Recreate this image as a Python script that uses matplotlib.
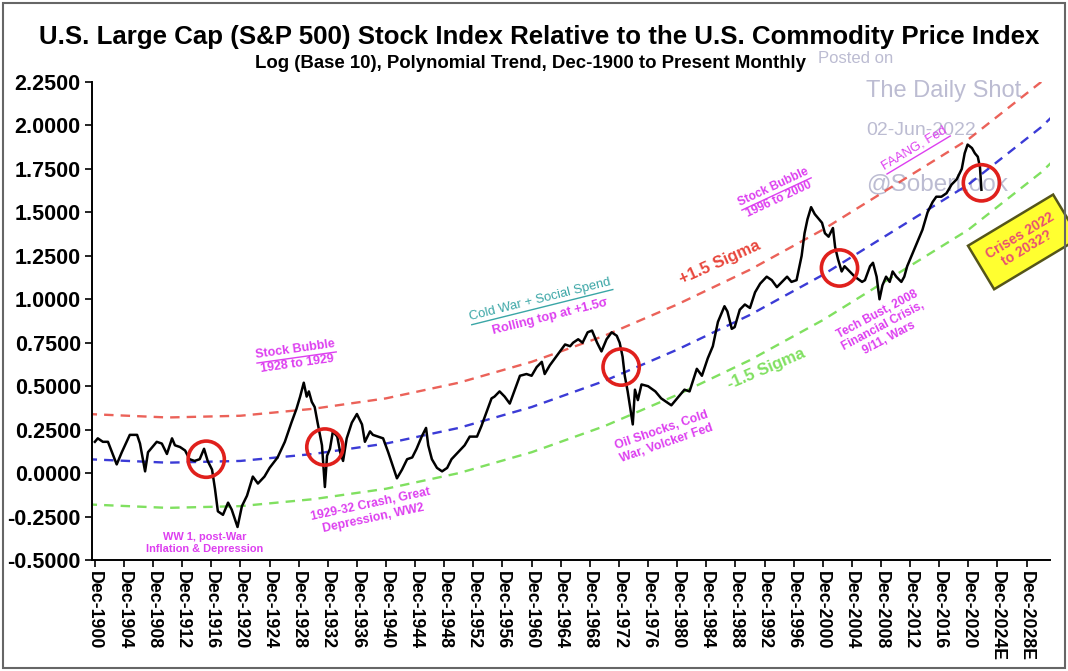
import matplotlib
matplotlib.use("Agg")
import matplotlib.pyplot as plt
from matplotlib.patches import Rectangle
from matplotlib.lines import Line2D
from matplotlib.transforms import IdentityTransform
import numpy as np

# --- data (year, log10 ratio) ---
years = [1900.0, 1900.4, 1901.1, 1901.8, 1903.0, 1903.7, 1904.8, 1905.8, 1906.2, 1906.9,
         1907.3, 1908.5, 1909.2, 1909.9, 1910.6, 1911.0, 1911.7, 1912.4, 1913.0, 1913.7,
         1914.4, 1915.0, 1915.5, 1916.1, 1916.5, 1916.9, 1917.6, 1918.3, 1918.8, 1919.6,
         1920.2, 1920.9, 1921.7, 1922.4, 1923.3, 1924.0, 1925.1, 1926.1, 1927.0, 1927.7,
         1928.2, 1928.7, 1929.1, 1929.4, 1929.8, 1930.2, 1930.6, 1931.2, 1931.6, 1931.9,
         1932.3, 1932.7, 1933.3, 1933.7, 1934.1, 1934.6, 1935.3, 1936.0, 1936.7, 1937.1,
         1937.8, 1938.2, 1938.9, 1939.6, 1940.3, 1941.5, 1942.2, 1942.9, 1943.6, 1944.2,
         1944.9, 1945.5, 1945.8, 1946.3, 1947.0, 1947.7, 1948.4, 1949.0, 1949.9, 1950.8,
         1951.5, 1952.5, 1953.1, 1953.8, 1954.5, 1954.9, 1955.6, 1956.3, 1957.0, 1957.7,
         1958.4, 1959.3, 1960.0, 1960.7, 1961.4, 1961.8, 1962.5, 1963.2, 1963.9, 1964.6,
         1965.3, 1965.7, 1966.4, 1967.0, 1967.7, 1968.3, 1969.0, 1969.6, 1970.3, 1971.0,
         1971.7, 1972.1, 1972.5, 1972.8, 1973.2, 1973.9, 1974.2, 1974.6, 1975.1, 1976.0,
         1977.0, 1977.8, 1979.2, 1980.0, 1981.0, 1981.7, 1982.7, 1983.4, 1984.2, 1984.9,
         1985.6, 1986.5, 1986.9, 1987.5, 1987.9, 1988.6, 1989.3, 1990.0, 1990.7, 1991.4,
         1992.3, 1993.0, 1993.7, 1994.4, 1995.1, 1995.7, 1996.4, 1997.1, 1997.5, 1997.9,
         1998.4, 1998.9, 1999.9, 2000.3, 2000.8, 2001.4, 2001.7, 2002.1, 2002.6, 2003.0,
         2003.7, 2004.4, 2005.4, 2005.8, 2006.5, 2006.9, 2007.4, 2007.8, 2008.2, 2008.7,
         2009.2, 2009.6, 2010.1, 2010.8, 2011.2, 2011.6, 2012.4, 2013.0, 2013.7, 2014.4,
         2015.1, 2015.6, 2016.3, 2017.0, 2017.7, 2018.4, 2019.1, 2019.5, 2019.9, 2020.5,
         2020.9, 2021.3, 2021.6, 2021.8]
ratio = [0.18, 0.20, 0.18, 0.18, 0.05, 0.12, 0.22, 0.22, 0.17, 0.01,
         0.12, 0.18, 0.17, 0.11, 0.20, 0.16, 0.15, 0.13, 0.08, 0.07,
         0.08, 0.14, 0.07, 0.02, -0.09, -0.22, -0.24, -0.17, -0.21, -0.31,
         -0.19, -0.13, -0.02, -0.06, -0.02, 0.03, 0.09, 0.18, 0.29, 0.37,
         0.44, 0.52, 0.44, 0.47, 0.41, 0.38, 0.29, 0.16, -0.08, 0.10,
         0.14, 0.24, 0.21, 0.12, 0.07, 0.20, 0.29, 0.34, 0.28, 0.18,
         0.24, 0.22, 0.21, 0.20, 0.12, -0.03, 0.02, 0.08, 0.09, 0.14,
         0.21, 0.26, 0.16, 0.08, 0.03, 0.01, 0.03, 0.08, 0.12, 0.16,
         0.21, 0.21, 0.27, 0.35, 0.43, 0.44, 0.47, 0.44, 0.40, 0.48,
         0.56, 0.57, 0.56, 0.61, 0.64, 0.57, 0.62, 0.66, 0.70, 0.74,
         0.73, 0.75, 0.77, 0.75, 0.81, 0.82, 0.75, 0.70, 0.77, 0.81,
         0.79, 0.75, 0.67, 0.56, 0.47, 0.28, 0.48, 0.42, 0.51, 0.50,
         0.47, 0.43, 0.39, 0.43, 0.48, 0.47, 0.60, 0.56, 0.66, 0.73,
         0.87, 0.96, 0.93, 0.83, 0.84, 0.94, 0.97, 0.95, 1.04, 1.09,
         1.13, 1.11, 1.07, 1.10, 1.13, 1.10, 1.11, 1.25, 1.38, 1.46,
         1.53, 1.49, 1.44, 1.38, 1.36, 1.41, 1.30, 1.23, 1.16, 1.19,
         1.16, 1.13, 1.10, 1.11, 1.19, 1.21, 1.13, 1.00, 1.08, 1.13,
         1.10, 1.16, 1.13, 1.10, 1.13, 1.19, 1.27, 1.33, 1.40, 1.50,
         1.56, 1.59, 1.59, 1.61, 1.66, 1.69, 1.75, 1.84, 1.89, 1.87,
         1.84, 1.82, 1.76, 1.63]

# polynomial trend, read at decade points, and the +/-1.5 sigma offset
trend_years = [1899, 1910, 1920, 1930, 1940, 1950, 1960, 1970, 1980, 1990, 2000, 2010, 2020, 2030, 2032]
trend_mid = [0.08, 0.06, 0.07, 0.11, 0.17, 0.26, 0.38, 0.53, 0.71, 0.91, 1.14, 1.40, 1.66, 1.99, 2.07]
sigma_band = 0.26

# red circles on trend crossings
circle_years = [1915.3, 1931.6, 1972.3, 2002.3, 2021.8]
circle_vals = [0.08, 0.15, 0.61, 1.18, 1.67]

tick_years = list(range(1900, 2029, 4))
tick_labels = [f"Dec-{y}" + ("E" if y > 2022 else "") for y in tick_years]
y_ticks = np.arange(-0.5, 2.26, 0.25)

plt.rcParams["font.family"] = ["Liberation Sans", "DejaVu Sans"]

MAG = "#dd3ff0"

fig = plt.figure(figsize=(10.68, 6.71), dpi=100)
ax = fig.add_axes([0.0861, 0.1654, 0.8969, 0.7124])
renderer = fig.canvas.get_renderer()


def block(x, y, lines, rot, size, color, weight="bold", underline=(), lh=1.1, **kw):
    """Rotated multi-line label, one annotate per line; optional underlines."""
    th = np.deg2rad(rot)
    n = len(lines)
    for i, s in enumerate(lines):
        d = (i - (n - 1) / 2) * size * lh
        dx, dy = d * np.sin(th), -d * np.cos(th)
        ax.annotate(s, (x, y), xytext=(dx, dy), textcoords="offset points", rotation=rot,
                    ha="center", va="center", color=color, fontsize=size, fontweight=weight,
                    rotation_mode="anchor", **kw)
        if i in underline:
            tmp = fig.text(0, 0, s, fontsize=size, fontweight=weight)
            w = tmp.get_window_extent(renderer).width
            tmp.remove()
            u = (d + size * 0.62) * fig.dpi / 72
            px, py = ax.transData.transform((x, y))
            cx, cy = px + u * np.sin(th), py - u * np.cos(th)
            ex, ey = w / 2 * np.cos(th), w / 2 * np.sin(th)
            fig.add_artist(Line2D([cx - ex, cx + ex], [cy - ey, cy + ey], color=color, lw=1.0,
                                  transform=IdentityTransform()))


t = np.array(trend_years)
mid = np.array(trend_mid)
dash = (4, 3)
ax.plot(t, mid + sigma_band, color="#e8463c", lw=1.7, dashes=dash, alpha=0.85, zorder=2)
ax.plot(t, mid, color="#3b3bd6", lw=1.7, dashes=dash, zorder=2)
ax.plot(t, mid - sigma_band, color="#80e060", lw=1.7, dashes=dash, zorder=2)

ax.plot(years, ratio, color="black", lw=1.8, zorder=3)
ax.scatter(circle_years, circle_vals, s=680, facecolors="none", edgecolors="#e0201c",
           linewidths=2.6, zorder=4)

ax.set_xlim(1899.6, 2031.2)
ax.set_ylim(-0.5, 2.25)
ax.set_yticks(y_ticks)
ax.set_yticklabels([f"{v:.4f}" for v in y_ticks], fontsize=15.5, fontweight="bold")
ax.set_xticks(tick_years)
ax.set_xticklabels(tick_labels, rotation=-90, fontsize=12.8, fontweight="bold")
ax.tick_params(axis="both", direction="out", length=5, width=1.2, colors="black", pad=3)
ax.spines["top"].set_visible(False)
ax.spines["right"].set_visible(False)
for s in ("left", "bottom"):
    ax.spines[s].set_linewidth(1.4)

fig.text(0.505, 0.945, "U.S. Large Cap (S&P 500) Stock Index Relative to the U.S. Commodity Price Index",
         ha="center", va="center", fontsize=18.6, fontweight="bold")
fig.text(0.497, 0.905, "Log (Base 10), Polynomial Trend, Dec-1900 to Present Monthly",
         ha="center", va="center", fontsize=13.4, fontweight="bold")

# watermark
wm = dict(color="#bcbcd2", ha="left", va="center", zorder=1)
fig.text(0.766, 0.913, "Posted on", fontsize=12, **wm)
ax.text(2006.0, 2.20, "The Daily Shot", fontsize=17, **wm)
ax.text(2006.0, 1.97, "02-Jun-2022", fontsize=14, **wm)
ax.text(2006.0, 1.66, "@SoberLook", fontsize=17.5, **wm)

# annotations
block(1915.1, -0.40, ["WW 1, post-War", "Inflation & Depression"], 0, 7.9, MAG, lh=1.1)
block(1927.7, 0.67, ["Stock Bubble", "1928 to 1929"], 8, 9.0, MAG, underline=(0,))
block(1938.1, -0.22, ["1929-32 Crash, Great", "Depression, WW2"], 12, 8.8, MAG)
block(1961.2, 1.00, ["Cold War + Social Spend"], 14, 9.4, "#3aa6a6", weight="normal", underline=(0,))
block(1962.6, 0.90, ["Rolling top at +1.5\u03c3"], 14, 9.2, MAG)
block(1985.9, 1.21, ["+1.5 Sigma"], 24, 12, "#e8463c")
block(1992.2, 0.60, ["-1.5 Sigma"], 23, 12, "#80e060")
block(1978.2, 0.21, ["Oil Shocks, Cold", "War, Volcker Fed"], 19, 8.8, MAG)
block(1993.6, 1.61, ["Stock Bubble", "1996 to 2000"], 25, 8.6, MAG, underline=(0,))
block(2008.3, 0.845, ["Tech Bust, 2008", "Financial Crisis,", "9/11, Wars"], 28, 8.6, MAG)
block(2012.6, 1.87, ["FAANG, Fed"], 31, 9.4, MAG, weight="normal", underline=(0,))
ax.text(2027.6, 1.33, "Crises 2022\nto 2032?", color="#e85070", fontsize=10, fontweight="bold",
        ha="center", va="center", rotation=31, linespacing=1.05, clip_on=False,
        bbox=dict(boxstyle="square,pad=0.8", facecolor="#ffff30", edgecolor="#55551a", linewidth=1.8))

fig.patches.append(Rectangle((0.003, 0.005), 0.994, 0.99, transform=fig.transFigure, fill=False,
                             edgecolor="#666666", linewidth=1.5))

fig.savefig("out.png", dpi=100)
